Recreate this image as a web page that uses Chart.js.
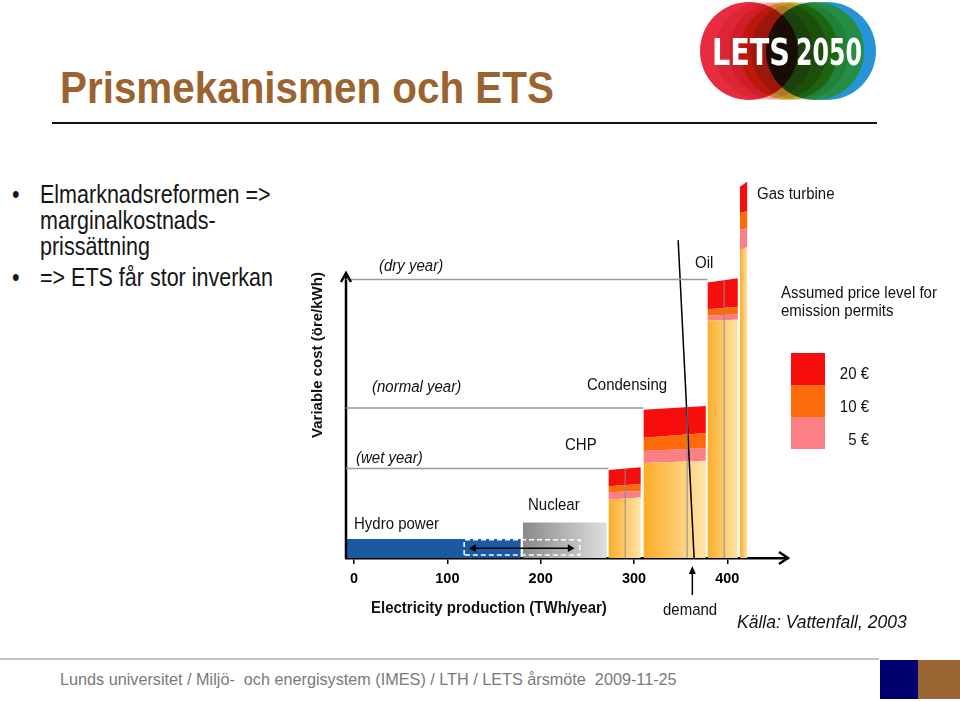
<!DOCTYPE html>
<html>
<head>
<meta charset="utf-8">
<title>Prismekanismen och ETS</title>
<script src="https://cdn.jsdelivr.net/npm/chart.js@4.4.1/dist/chart.umd.min.js"></script>
<style>
  body { margin: 0; background: #fff; font-family: "Liberation Sans", Arial, sans-serif; }
  #page { position: relative; width: 960px; height: 701px; overflow: hidden; background: #fff; }
  .abs { position: absolute; white-space: nowrap; }
  #title { left: 60px; top: 66px; font-size: 44px; line-height: 44px; font-weight: bold; color: #9b642f;
           transform: scaleX(0.918); transform-origin: 0 0; }
  #rule { left: 52px; top: 122px; width: 825px; border-top: 2px solid #111; }
  .bl { left: 40px; font-size: 25px; line-height: 26px; color: #151515; transform: scaleX(0.86); transform-origin: 0 0; }
  .dot { left: 12px; font-size: 25px; line-height: 26px; color: #151515; transform: scaleX(0.86); transform-origin: 0 0; }
  #footLine { left: 0; top: 658px; width: 879px; border-top: 2px solid #c4c4c4; }
  #foot { left: 60px; top: 670px; font-size: 17px; line-height: 20px; color: #7a7a7a; transform-origin: 0 0; }
  #sq1 { left: 880px; top: 660px; width: 38px; height: 39px; background: #00006e; }
  #sq2 { left: 918px; top: 660px; width: 42px; height: 39px; background: #9a6433; }
  #logo { left: 690px; top: 0; }
  #chart { left: 0; top: 0; }
</style>
</head>
<body>
<div id="page">
  <div id="title" class="abs">Prismekanismen och ETS</div>
  <div id="rule" class="abs"></div>
  <canvas id="logo" class="abs" width="200" height="110"></canvas>

  <div class="abs dot" style="top:181px">•</div>
  <div class="abs bl" style="top:181px">Elmarknadsreformen =&gt;</div>
  <div class="abs bl" style="top:207px">marginalkostnads-</div>
  <div class="abs bl" style="top:233px">prissättning</div>
  <div class="abs dot" style="top:264px">•</div>
  <div class="abs bl" style="top:264px">=&gt; ETS får stor inverkan</div>

  <div id="footLine" class="abs"></div>
  <div id="foot" class="abs">Lunds universitet / Miljö-&nbsp; och energisystem (IMES) / LTH / LETS årsmöte&nbsp; 2009-11-25</div>
  <div id="sq1" class="abs"></div>
  <div id="sq2" class="abs"></div>

  <canvas id="chart" class="abs" width="960" height="701"></canvas>
</div>

<script>
// x: electricity production (TWh/year), y: variable cost (öre/kWh)
const xTicks = [0, 100, 200, 300, 400];
const xMin = -8.6, xMax = 465, yMax = 100;
const yAxisTop = 75.4;

// hydro and nuclear, no emission cost
const hydroRange = [-8.6, 178.7];
const hydroCost = 5.0;
const nuclearRange = [180.8, 270.8];
const nuclearCost = 9.4;

// fossil blocks, cost at left (L) and right (R) edge for each permit price
const fossilNames = ['CHP', 'Condensing', 'Oil', 'Gas turbine'];
const fossilStart = [272.6, 310.1, 378.7, 413.5];
const fossilEnd = [307.3, 377.0, 411.3, 421.5];
const costBaseL = [15.5, 25.1, 62.8, 81.5];
const costBaseR = [16.0, 25.7, 63.0, 82.3];
const cost5L = [17.4, 28.3, 64.1, 86.8];
const cost5R = [17.7, 29.1, 64.5, 87.3];
const cost10L = [19.0, 31.8, 65.8, 91.3];
const cost10R = [19.6, 33.1, 66.5, 91.8];
const cost20L = [23.3, 39.2, 72.9, 98.2];
const cost20R = [24.0, 40.2, 74.0, 99.6];

// thin gray lines inside CHP / Condensing / Oil
const innerLineX = [290.5, 356.9, 396.6];
const innerLineTop = [23.7, 39.9, 73.5];

// hydro price levels
const yearNames = ['(dry year)', '(normal year)', '(wet year)'];
const yearLevel = [73.7, 39.7, 23.7];
const yearLineEnd = [378.7, 310.1, 272.6];

// swing range hydro/nuclear
const swingRange = [118, 242];
const swingLow = 0.8, swingHigh = 4.8;
const swingArrow = [128, 231.5];
const swingArrowY = 2.6;

// demand
const demandTop = { x: 347.3, y: 84.1 };
const demandBottom = { x: 364.4, y: 0 };
const demandArrowX = 362.5;

const permitLabels = ['20 €', '10 €', '5 €'];
const permitColors = ['#f80d0d', '#fc6a0a', '#fb7f84'];

const FONT = '"Liberation Sans", Arial, sans-serif';

// horizontal gradient over the dataset's own x range
function hGradient(c1, c2) {
  return (ctx) => {
    const chart = ctx.chart;
    const ds = chart.data.datasets[ctx.datasetIndex];
    if (!chart.chartArea || !ds) return c1;
    const sx = chart.scales.x;
    const x0 = sx.getPixelForValue(ds.data[0].x);
    const x1 = sx.getPixelForValue(ds.data[ds.data.length - 1].x);
    const g = chart.ctx.createLinearGradient(x0, 0, x1, 0);
    g.addColorStop(0, c1);
    g.addColorStop(1, c2);
    return g;
  };
}

const datasets = [];
function addLine(data, color, width, extra) {
  datasets.push(Object.assign({
    data, borderColor: color, borderWidth: width, pointRadius: 0,
    fill: false, tension: 0, order: 0
  }, extra || {}));
  return datasets.length - 1;
}
function addArea(data, bg, fill) {
  datasets.push({
    data, backgroundColor: bg, borderColor: 'rgba(0,0,0,0)', borderWidth: 0,
    pointRadius: 0, fill, tension: 0, order: 1
  });
  return datasets.length - 1;
}

// overlay lines
yearLevel.forEach((lv, i) => {
  addLine([{ x: xMin, y: lv }, { x: yearLineEnd[i], y: lv }], '#9a9a9a', 1.5);
});
innerLineX.forEach((v, i) => {
  addLine([{ x: v, y: 0 }, { x: v, y: innerLineTop[i] }], '#8c8c8c', 1);
});
addLine([demandTop, demandBottom], '#000', 1.5);
addLine([
  { x: swingRange[0], y: swingLow }, { x: swingRange[0], y: swingHigh },
  { x: swingRange[1], y: swingHigh }, { x: swingRange[1], y: swingLow },
  { x: swingRange[0], y: swingLow }
], '#fff', 1.5, { borderDash: [5, 3] });
addLine([{ x: swingArrow[0], y: swingArrowY }, { x: swingArrow[1], y: swingArrowY }], '#000', 1.5, {
  pointStyle: 'triangle', pointRadius: 4.5, pointRotation: [-90, 90],
  pointBackgroundColor: '#000', pointBorderWidth: 0
});
addLine([{ x: xMin, y: 0 }, { x: xMin, y: yAxisTop }], '#000', 2.5, { clip: false });

// filled blocks
addArea([{ x: hydroRange[0], y: hydroCost }, { x: hydroRange[1], y: hydroCost }], '#1b5aa3', 'origin');
addArea([{ x: nuclearRange[0], y: nuclearCost }, { x: nuclearRange[1], y: nuclearCost }],
  hGradient('#8a8a8a', '#dedede'), 'origin');
fossilNames.forEach((n, i) => {
  const a = fossilStart[i], b = fossilEnd[i];
  const base = addArea([{ x: a, y: costBaseL[i] }, { x: b, y: costBaseR[i] }],
    hGradient('#fbad28', '#fee4aa'), 'origin');
  const p5 = addArea([{ x: a, y: cost5L[i] }, { x: b, y: cost5R[i] }], permitColors[2], base);
  const p10 = addArea([{ x: a, y: cost10L[i] }, { x: b, y: cost10R[i] }], permitColors[1], p5);
  addArea([{ x: a, y: cost20L[i] }, { x: b, y: cost20R[i] }], permitColors[0], p10);
});

// text placed on the slide
const labels = [
  [yearNames[0], 379, 266, 'italic 15px'],
  [yearNames[1], 372, 387, 'italic 15px'],
  [yearNames[2], 356, 458, 'italic 15px'],
  ['Hydro power', 354, 524, '15px'],
  ['Nuclear', 528, 505, '15px'],
  [fossilNames[0], 565, 445, '15px'],
  [fossilNames[1], 587, 385, '15px'],
  [fossilNames[2], 695, 263, '15px'],
  [fossilNames[3], 757, 194, '15px'],
  ['Assumed price level for', 781, 293, '15px'],
  ['emission permits', 781, 311, '15px'],
  ['demand', 663, 610, '15px'],
  ['Källa: Vattenfall, 2003', 737, 623, 'italic 17.5px'],
  ['Electricity production (TWh/year)', 371, 608, 'bold 15px']
];

function stretchedText(ctx, t, x, y, align) {
  ctx.save();
  ctx.translate(x, y);
  ctx.scale(1, 1.1);
  ctx.textAlign = align || 'left';
  ctx.fillText(t, 0, 0);
  ctx.restore();
}

const slidePlugin = {
  id: 'slide',
  afterDraw(chart) {
    const { ctx, chartArea: a, scales: { x, y } } = chart;
    ctx.save();
    ctx.fillStyle = '#111';
    ctx.textBaseline = 'middle';
    labels.forEach(([t, px, py, f]) => {
      ctx.font = f + ' ' + FONT;
      stretchedText(ctx, t, px, py);
    });

    // y axis title
    ctx.save();
    ctx.translate(318, 355);
    ctx.rotate(-Math.PI / 2);
    ctx.font = 'bold 15px ' + FONT;
    ctx.textAlign = 'center';
    ctx.fillText('Variable cost (öre/kWh)', 0, 0);
    ctx.restore();

    // permit legend
    permitLabels.forEach((t, i) => {
      ctx.fillStyle = permitColors[i];
      ctx.fillRect(791, 353 + i * 32, 34, 32);
      ctx.fillStyle = '#111';
      ctx.font = '15px ' + FONT;
      stretchedText(ctx, t, 869, 374 + i * 33, 'right');
    });

    // axis arrow heads
    ctx.strokeStyle = '#000';
    ctx.lineWidth = 2.5;
    ctx.beginPath();
    ctx.moveTo(a.right - 9, a.bottom - 6);
    ctx.lineTo(a.right, a.bottom);
    ctx.lineTo(a.right - 9, a.bottom + 6);
    ctx.stroke();
    const xl = x.getPixelForValue(xMin), yt = y.getPixelForValue(yAxisTop);
    ctx.beginPath();
    ctx.moveTo(xl - 5, yt + 9);
    ctx.lineTo(xl, yt);
    ctx.lineTo(xl + 5, yt + 9);
    ctx.stroke();

    // demand arrow under the axis
    const dx = x.getPixelForValue(demandArrowX);
    ctx.lineWidth = 1.5;
    ctx.beginPath();
    ctx.moveTo(dx, a.bottom + 37);
    ctx.lineTo(dx, a.bottom + 14);
    ctx.stroke();
    ctx.fillStyle = '#000';
    ctx.beginPath();
    ctx.moveTo(dx, a.bottom + 8);
    ctx.lineTo(dx - 3.5, a.bottom + 16);
    ctx.lineTo(dx + 3.5, a.bottom + 16);
    ctx.closePath();
    ctx.fill();
    ctx.restore();
  }
};

new Chart(document.getElementById('chart'), {
  type: 'line',
  data: { datasets },
  plugins: [slidePlugin],
  options: {
    responsive: false,
    animation: false,
    events: [],
    layout: { padding: { left: 346, right: 172, top: 180, bottom: 103 } },
    plugins: { legend: { display: false }, tooltip: { enabled: false } },
    scales: {
      x: {
        type: 'linear', min: xMin, max: xMax,
        afterBuildTicks: (scale) => { scale.ticks = xTicks.map(v => ({ value: v })); },
        afterFit: (scale) => { scale.height = 40; },
        grid: { display: true, drawOnChartArea: false, drawTicks: true, tickLength: 6, color: '#000', lineWidth: 1.5 },
        border: { display: true, color: '#000', width: 2.5 },
        ticks: { color: '#000', padding: 6, maxRotation: 0, font: { family: FONT, size: 14.5, weight: 'bold' } }
      },
      y: { type: 'linear', display: false, min: 0, max: yMax }
    }
  }
});

// LETS 2050 logo
(function () {
  const c = document.getElementById('logo').getContext('2d');
  const disc = (cx, col) => {
    c.fillStyle = col;
    c.beginPath();
    c.arc(cx, 51, 49, 0, Math.PI * 2);
    c.fill();
  };
  disc(137, 'rgb(38,148,214)');
  disc(125, 'rgb(38,142,68)');
  c.globalCompositeOperation = 'multiply';
  disc(99, 'rgb(232,196,64)');
  disc(59, 'rgb(230,44,62)');
  disc(74, 'rgb(246,214,214)');
  disc(88, 'rgb(238,200,200)');
  disc(110, 'rgb(214,234,214)');
  c.globalCompositeOperation = 'source-over';
  c.fillStyle = '#fff';
  c.font = 'bold 38px "DejaVu Sans Condensed", "DejaVu Sans", sans-serif';
  c.textBaseline = 'alphabetic';
  c.fillText('LETS', 22, 65, 78);
  c.fillText('2050', 106, 65, 66);
})();

// fit the footer text width
const foot = document.getElementById('foot');
foot.style.transform = 'scaleX(' + (617 / foot.offsetWidth) + ')';
</script>
</body>
</html>
